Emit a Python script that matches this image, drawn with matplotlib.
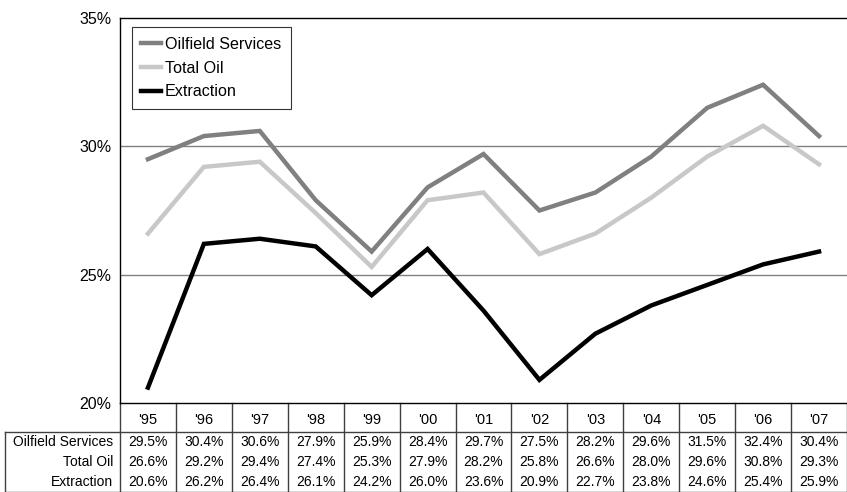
import matplotlib
matplotlib.use("Agg")
import matplotlib.pyplot as plt
from matplotlib.lines import Line2D
import matplotlib.transforms as mtransforms

plt.rcParams['font.family'] = ['Liberation Sans', 'DejaVu Sans']

years = ["'95", "'96", "'97", "'98", "'99", "'00", "'01", "'02", "'03", "'04", "'05", "'06", "'07"]
oilfield = [29.5, 30.4, 30.6, 27.9, 25.9, 28.4, 29.7, 27.5, 28.2, 29.6, 31.5, 32.4, 30.4]
total_oil = [26.6, 29.2, 29.4, 27.4, 25.3, 27.9, 28.2, 25.8, 26.6, 28.0, 29.6, 30.8, 29.3]
extraction = [20.6, 26.2, 26.4, 26.1, 24.2, 26.0, 23.6, 20.9, 22.7, 23.8, 24.6, 25.4, 25.9]
series_names = ["Oilfield Services", "Total Oil", "Extraction"]
series_vals = [oilfield, total_oil, extraction]
colors = ["#808080", "#c8c8c8", "#000000"]
yticks = [20, 25, 30, 35]

W, H = 847, 492
fig = plt.figure(figsize=(W / 100, H / 100), dpi=100)
ax_left, ax_right, ax_top, ax_bot = 120, 847, 18, 403
ax = fig.add_axes([ax_left / W, (H - ax_bot) / H, (ax_right - ax_left) / W, (ax_bot - ax_top) / H])

x = list(range(len(years)))
for name, vals, c in zip(series_names, series_vals, colors):
    ax.plot(x, vals, color=c, lw=3.2, label=name, solid_joinstyle='miter')

ax.set_xlim(-0.5, len(years) - 0.5)
ax.set_ylim(20, 35)
ax.set_yticks(yticks)
ax.set_yticklabels([f"{v}%" for v in yticks], fontsize=11.5)
ax.set_xticks([])
for v in [25, 30]:
    ax.axhline(v, color="#808080", lw=1.0, zorder=0)
ax.spines['right'].set_visible(False)
ax.spines['top'].set_linewidth(1.0)
ax.spines['left'].set_linewidth(1.0)
ax.spines['bottom'].set_linewidth(1.0)
ax.tick_params(axis='y', length=0, pad=6)

leg = ax.legend(loc='upper left', bbox_to_anchor=(0.016, 0.9766), frameon=True, fancybox=False,
                edgecolor='black', fontsize=11.6, handlelength=1.2, handletextpad=0.25,
                borderpad=0.6, labelspacing=0.55, borderaxespad=0)
leg.get_frame().set_linewidth(0.8)

# table
trans = mtransforms.blended_transform_factory(ax.transData, ax.transAxes)
def ay(py):
    return (ax_bot - py) / (ax_bot - ax_top)

px_per_unit = (ax_right - ax_left) / len(years)
x_label_left = -0.5 - (ax_left - 5) / px_per_unit
x_right = len(years) - 0.5

hdr_bot = ay(432)
tbl_bot = ay(491.5)
lc = "#404040"
for i in range(len(years) + 1):
    xb = i - 0.5
    ax.add_line(Line2D([xb, xb], [0, tbl_bot], transform=trans, color=lc, lw=1.0, clip_on=False))
ax.add_line(Line2D([x_label_left, x_right], [hdr_bot, hdr_bot], transform=trans, color=lc, lw=1.0, clip_on=False))
ax.add_line(Line2D([x_label_left, x_right], [tbl_bot, tbl_bot], transform=trans, color=lc, lw=1.0, clip_on=False))
ax.add_line(Line2D([x_label_left, x_label_left], [hdr_bot, tbl_bot], transform=trans, color=lc, lw=1.0, clip_on=False))

for i, yr in enumerate(years):
    ax.text(i, ay(420), yr, transform=trans, ha='center', va='center', fontsize=10.5, clip_on=False)

row_centers = [441.5, 461.5, 481.5]
for name, vals, py in zip(series_names, series_vals, row_centers):
    ax.text(-0.5 - 7 / px_per_unit, ay(py), name, transform=trans, ha='right', va='center', fontsize=10, clip_on=False)
    for i, v in enumerate(vals):
        ax.text(i, ay(py), f"{v:.1f}%", transform=trans, ha='center', va='center', fontsize=10, clip_on=False)

fig.savefig("out.png", dpi=100)
